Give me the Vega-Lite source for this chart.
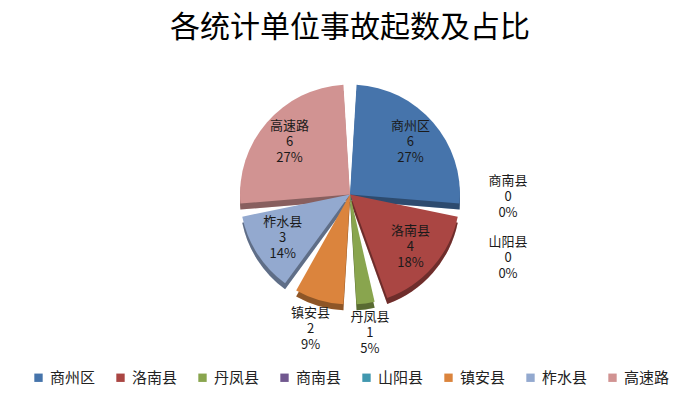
{
  "$schema": "https://vega.github.io/schema/vega-lite/v6.json",
  "width": 700,
  "height": 394,
  "autosize": {"type": "fit", "contains": "padding"},
  "padding": {"top": 13, "left": 5, "right": 5, "bottom": 8},
  "background": "white",
  "title": {
    "text": "各统计单位事故起数及占比",
    "font": "Noto Sans CJK SC",
    "fontSize": 30,
    "fontWeight": "normal",
    "color": "#000000",
    "anchor": "middle",
    "offset": 2
  },
  "data": {
    "values": [
      {"name": "商州区", "value": 6, "pct": "27%"},
      {"name": "洛南县", "value": 4, "pct": "18%"},
      {"name": "丹凤县", "value": 1, "pct": "5%"},
      {"name": "商南县", "value": 0, "pct": "0%"},
      {"name": "山阳县", "value": 0, "pct": "0%"},
      {"name": "镇安县", "value": 2, "pct": "9%"},
      {"name": "柞水县", "value": 3, "pct": "14%"},
      {"name": "高速路", "value": 6, "pct": "27%"}
    ]
  },
  "transform": [
    {"window": [{"op": "row_number", "as": "k"}]},
    {"calculate": "datum.name + '\\n' + datum.value + '\\n' + datum.pct", "as": "label"}
  ],
  "config": {
    "view": {"stroke": null},
    "font": "Noto Sans CJK SC",
    "legend": {"layout": {"bottom": {"anchor": "middle"}}}
  },
  "layer": [
    {
      "mark": {"type": "arc", "outerRadius": 110, "padAngle": 0.12, "yOffset": 6},
      "encoding": {
        "theta": {"field": "value", "type": "quantitative", "stack": true},
        "order": {"field": "k", "type": "quantitative"},
        "color": {
          "field": "name",
          "type": "nominal",
          "sort": ["商州区", "洛南县", "丹凤县", "商南县", "山阳县", "镇安县", "柞水县", "高速路"],
          "scale": {
            "domain": ["商州区", "洛南县", "丹凤县", "商南县", "山阳县", "镇安县", "柞水县", "高速路"],
            "range": ["#4674AB", "#AA4643", "#89A54E", "#71588F", "#4198AF", "#DB843D", "#93A9CF", "#D19392"]
          },
          "legend": {
            "orient": "bottom",
            "direction": "horizontal",
            "title": null,
            "symbolType": "square",
            "symbolSize": 70,
            "symbolStrokeWidth": 0,
            "labelFont": "Noto Sans CJK SC",
            "labelFontSize": 15,
            "labelColor": "#222222",
            "columnPadding": 17,
            "labelOffset": 4,
            "offset": 26
          }
        }
      }
    },
    {
      "mark": {"type": "arc", "outerRadius": 110, "padAngle": 0.12, "yOffset": 6, "fill": "#000000", "opacity": 0.35},
      "encoding": {
        "theta": {"field": "value", "type": "quantitative", "stack": true},
        "order": {"field": "k", "type": "quantitative"}
      }
    },
    {
      "mark": {"type": "arc", "outerRadius": 110, "padAngle": 0.12},
      "encoding": {
        "theta": {"field": "value", "type": "quantitative", "stack": true},
        "order": {"field": "k", "type": "quantitative"},
        "color": {"field": "name", "type": "nominal", "sort": ["商州区", "洛南县", "丹凤县", "商南县", "山阳县", "镇安县", "柞水县", "高速路"]}
      }
    },
    {
      "mark": {"type": "text", "radius": 80, "dy": -16, "lineBreak": "\n", "fontSize": 13, "lineHeight": 16, "font": "Noto Sans CJK SC", "color": "#1a1a1a"},
      "encoding": {
        "theta": {"field": "value", "type": "quantitative", "stack": true},
        "order": {"field": "k", "type": "quantitative"},
        "text": {"condition": {"test": "datum.value >= 3", "field": "label"}, "value": ""}
      }
    },
    {
      "mark": {"type": "text", "radius": 140, "dy": -16, "lineBreak": "\n", "fontSize": 13, "lineHeight": 16, "font": "Noto Sans CJK SC", "color": "#1a1a1a"},
      "encoding": {
        "theta": {"field": "value", "type": "quantitative", "stack": true},
        "order": {"field": "k", "type": "quantitative"},
        "text": {"condition": {"test": "datum.value > 0 && datum.value < 3", "field": "label"}, "value": ""}
      }
    },
    {
      "transform": [{"filter": "datum.value == 0"}],
      "mark": {"type": "text", "dy": -16, "lineBreak": "\n", "fontSize": 13, "lineHeight": 16, "font": "Noto Sans CJK SC", "color": "#1a1a1a", "x": {"expr": "width / 2 + 158"}},
      "encoding": {
        "y": {"field": "name", "type": "nominal", "sort": ["商南县", "山阳县"], "axis": null, "scale": {"type": "point", "range": [152, 213], "padding": 0}},
        "text": {"field": "label"}
      }
    }
  ]
}
